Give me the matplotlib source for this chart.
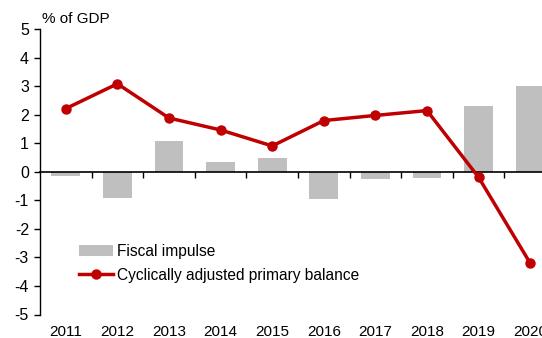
import matplotlib
matplotlib.use("Agg")
import matplotlib.pyplot as plt
import matplotlib.transforms as mtransforms
import numpy as np

YEARS = ["2011", "2012", "2013", "2014", "2015", "2016", "2017", "2018", "2019", "2020"]
FISCAL_IMPULSE = [-0.16, -0.92, 1.08, 0.35, 0.49, -0.95, -0.26, -0.22, 2.32, 3.02]
CAPB = [2.22, 3.09, 1.89, 1.47, 0.91, 1.80, 1.98, 2.15, -0.19, -3.20]

RED = "#C00000"
GRAY = "#BFBFBF"

plt.rcParams.update({
    "font.family": ["Liberation Sans", "DejaVu Sans"],
    "font.size": 10.5,
    "axes.unicode_minus": False,
})

fig = plt.figure(figsize=(5.42, 3.38), dpi=100)
# axes deliberately runs past the right edge (last category is clipped)
ax = fig.add_axes([40 / 542, 23.5 / 338, 516 / 542, 285.2 / 338])

x = np.arange(len(YEARS))
bars = ax.bar(x, FISCAL_IMPULSE, width=0.56, color=GRAY, label="Fiscal impulse", zorder=2)
line, = ax.plot(x, CAPB, color=RED, lw=2.5, marker="o", ms=6.5,
                label="Cyclically adjusted primary balance", zorder=3)

ax.set_xlim(-0.5, len(YEARS) - 0.5)
ax.set_ylim(-5, 5)
ax.set_yticks(range(-5, 6))
ax.tick_params(axis="y", direction="out", length=4, width=1, labelsize=11.5, pad=4)

for s in ("top", "right"):
    ax.spines[s].set_visible(False)
ax.spines["left"].set_linewidth(1)
ax.spines["bottom"].set_position(("data", 0))
ax.spines["bottom"].set_linewidth(1.2)

# tick marks between categories, labels at the bottom of the plot
ax.set_xticks(x)
ax.set_xticklabels([])
ax.tick_params(axis="x", which="major", length=0)
ax.set_xticks(np.arange(0.5, len(YEARS) - 0.5, 1), minor=True)
ax.tick_params(axis="x", which="minor", direction="out", length=4, width=1)

trans = mtransforms.blended_transform_factory(ax.transData, ax.transAxes)
for xi, yr in zip(x, YEARS):
    ax.text(xi, -0.036, yr, transform=trans, ha="center", va="top", fontsize=11)

ax.text(0.003, 1.012, "% of GDP", transform=ax.transAxes, ha="left", va="bottom",
        fontsize=11)

ax.legend([bars, line], ["Fiscal impulse", "Cyclically adjusted primary balance"],
          loc="lower left", bbox_to_anchor=(0.063, 0.09), frameon=False,
          fontsize=11.2, handlelength=2.2, handletextpad=0.25, labelspacing=0.55,
          borderaxespad=0)

fig.savefig("out.png", dpi=100)
